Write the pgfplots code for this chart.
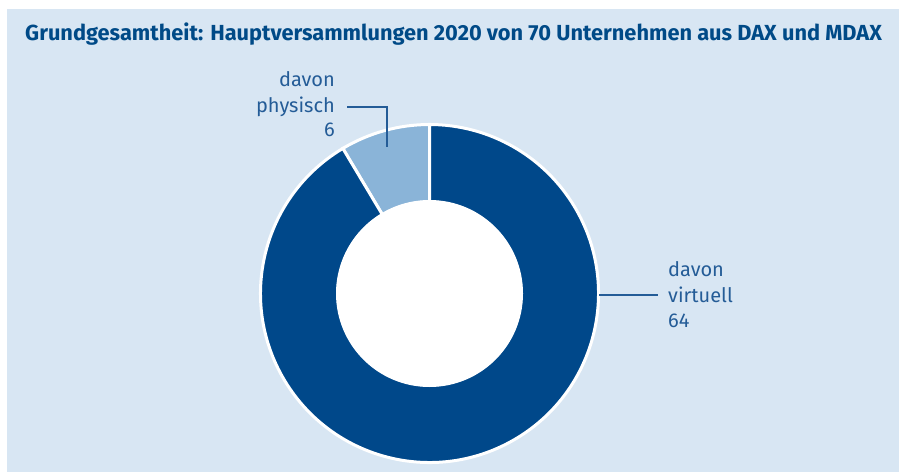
\documentclass[border=0pt]{standalone}
\usepackage{fontspec}
\setmainfont{Fira Sans}
\usepackage{pgfplots}
\pgfplotsset{compat=1.18}
\usepackage{pgfplotstable}
\definecolor{bgblue}{HTML}{D8E6F3}
\definecolor{titleblue}{HTML}{004A87}
\definecolor{darkseg}{HTML}{00488A}
\definecolor{lightseg}{HTML}{8AB4D8}
\definecolor{labelblue}{HTML}{245C97}

% Hauptversammlungen 2020: physisch vs. virtuell
\pgfplotstableread{
part value
physisch 6
virtuell 64
}\hvdata

\begin{document}
\begin{tikzpicture}
\pgfplotstablegetelem{0}{value}\of\hvdata \let\vphys\pgfplotsretval
\pgfplotstablegetelem{1}{value}\of\hvdata \let\vvirt\pgfplotsretval
\pgfmathsetmacro{\total}{\vphys+\vvirt}
\pgfmathsetmacro{\asplit}{90+360*\vphys/\total}
\begin{axis}[
    x=1pt, y=1pt,
    xmin=0, xmax=899, ymin=0, ymax=472,
    hide axis, clip=false,
  ]
  \coordinate (bl) at (axis cs:0,0);
  \coordinate (tr) at (axis cs:899,472);
  % background panel
  \fill[white] (axis cs:0,0) rectangle (axis cs:899,472);
  \fill[bgblue] (axis cs:7,0) rectangle (axis cs:899,463);
  \coordinate (c) at (axis cs:429.5,178.5);
  % segments
  \filldraw[lightseg, draw=white, line width=3pt]
    ([shift={(90:169pt)}]c) arc[start angle=90, end angle=\asplit, radius=169pt]
    -- ([shift={(\asplit:92pt)}]c) arc[start angle=\asplit, end angle=90, radius=92pt] -- cycle;
  \filldraw[darkseg, draw=white, line width=3pt]
    ([shift={(\asplit:169pt)}]c) arc[start angle=\asplit, end angle=450, radius=169pt]
    -- ([shift={(450:92pt)}]c) arc[start angle=450, end angle=\asplit, radius=92pt] -- cycle;
  \fill[white] (c) circle[radius=93pt];
  % leader lines
  \draw[labelblue, line width=1.4pt] (axis cs:347,365) -- (axis cs:387,365) -- (axis cs:387,325);
  \draw[labelblue, line width=1.4pt] (axis cs:599,177) -- (axis cs:658,177);
  % title
  \node[anchor=base west, inner sep=0pt, text=titleblue, font=\fontsize{21.8}{26}\selectfont\bfseries]
    at (axis cs:25,431.5) {Grundgesamtheit: Hauptversammlungen 2020 von 70 Unternehmen aus DAX und MDAX};
  % labels
  \begin{scope}[every node/.style={inner sep=0pt, text=labelblue, font=\fontsize{20}{24}\selectfont}]
    \node[anchor=base east] at (axis cs:335,385) {davon};
    \node[anchor=base east] at (axis cs:335,359.5) {physisch};
    \node[anchor=base east] at (axis cs:335,335) {6};
    \node[anchor=base west] at (axis cs:668,196) {davon};
    \node[anchor=base west] at (axis cs:668,170) {virtuell};
    \node[anchor=base west] at (axis cs:668,145) {64};
  \end{scope}
\end{axis}
\pgfresetboundingbox
\path (bl) rectangle (tr);
\end{tikzpicture}
\end{document}
